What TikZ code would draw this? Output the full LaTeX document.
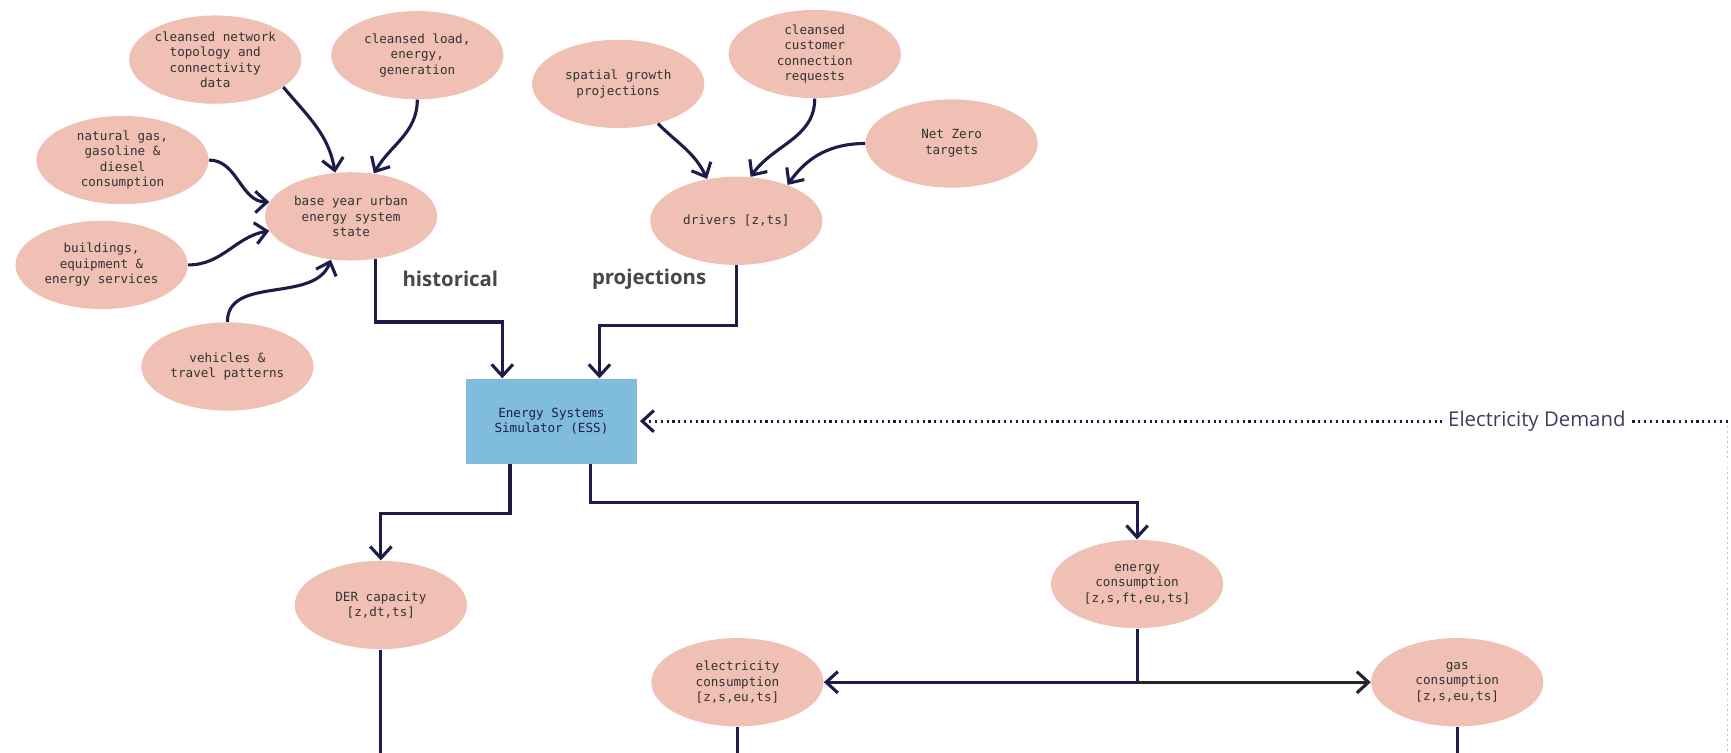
\documentclass[tikz,border=0pt]{standalone}
\usepackage{fontspec}
\setmonofont{DejaVu Sans Mono}
\setsansfont{Open Sans}
\usetikzlibrary{shapes.geometric,arrows.meta}
\definecolor{blobpink}{RGB}{240,192,181}
\definecolor{essblue}{RGB}{128,188,222}
\definecolor{ink}{RGB}{28,28,72}
\tikzset{
  blob/.style = {ellipse, fill=blobpink, minimum width=3.12cm, minimum height=1.6cm,
                 inner sep=0pt, align=center, text=black!80,
                 font=\ttfamily\fontsize{6.5}{8}\selectfont},
  essbox/.style = {rectangle, fill=essblue, minimum width=3.1cm, minimum height=1.54cm,
                   align=center, text=ink, font=\ttfamily\fontsize{6.5}{8}\selectfont},
  flow/.style = {draw=ink, line width=1.6pt, -{Straight Barb[length=6pt,width=11pt]}},
  wire/.style = {draw=ink, line width=1.6pt},
  demand/.style = {draw=ink, line width=1.5pt, dash pattern=on 1.1pt off 1.9pt,
                   -{Straight Barb[length=6pt,width=11pt,line width=1.6pt,sep]}},
  tag/.style = {font=\sffamily\bfseries\fontsize{10.5}{12}\selectfont, text=black!72}
}

\begin{document}
\begin{tikzpicture}[x=0.02cm, y=-0.02cm]
	\useasboundingbox (0,0) rectangle (1568,682);
	\coordinate (bot) at (0,682);

	% Historical inputs
	\node[blob] (net)  at (195,54)  {cleansed network\\topology and\\connectivity\\data};
	\node[blob] (load) at (378,50)  {cleansed load,\\energy,\\generation};
	\node[blob] (fuel) at (111,145) {natural gas,\\gasoline \&\\diesel\\consumption};
	\node[blob] (bldg) at (92,240)  {buildings,\\equipment \&\\energy services};
	\node[blob] (veh)  at (206,332) {vehicles \&\\travel patterns};
	\node[blob] (base) at (318,196) {base year urban\\energy system\\state};

	% Projection inputs
	\node[blob] (spat) at (560,76)  {spatial growth\\projections};
	\node[blob] (cust) at (738,49)  {cleansed\\customer\\connection\\requests};
	\node[blob] (nz)   at (862,130) {Net Zero\\targets};
	\node[blob] (drv)  at (667,200) {drivers [z,ts]};

	% Simulator
	\node[essbox] (ess) at (499.5,381.5) {Energy Systems\\Simulator (ESS)};

	% Outputs
	\node[blob] (der)  at (345,548)  {DER capacity\\{}[z,dt,ts]};
	\node[blob] (en)   at (1030,529) {energy\\consumption\\{}[z,s,ft,eu,ts]};
	\node[blob] (elec) at (668,618)  {electricity\\consumption\\{}[z,s,eu,ts]};
	\node[blob] (gas)  at (1320,618) {gas\\consumption\\{}[z,s,eu,ts]};

	% Labels
	\node[tag] (hist) at (408,253) {historical};
	\node[tag] (proj) at (588,253) {projections};

	% Curved inputs
	\draw[flow] (net.-22)    to[out=-50,in=100] (base.110);
	\draw[flow] (load.south) to[out=-90,in=60]  (base.62);
	\draw[flow] (fuel.east)  to[out=0,in=180]   (base.170);
	\draw[flow] (bldg.east)  to[out=0,in=190]   (base.190);
	\draw[flow] (veh.north)  to[out=90,in=250]  (base.245);
	\draw[flow] (spat.-45)   to[out=-45,in=115] (drv.125);
	\draw[flow] (cust.south) to[out=-90,in=55]  (drv.72);
	\draw[flow] (nz.west)    to[out=180,in=55]  (drv.35);

	% Into the simulator
	\draw[flow] (base.-60) -- ++(0,57) -| ([xshift=-0.89cm]ess.north);
	\draw[flow] (drv.south) -- ++(0,54.5) -| ([xshift=0.87cm]ess.north);

	% Out of the simulator
	\draw[flow] ([xshift=-0.75cm]ess.south) -- ++(0,45) -| (der.north);
	\draw[flow] ([xshift=0.71cm]ess.south) -- ++(0,35) -| (en.north);

	% Split of energy consumption
	\coordinate (split) at (en.south |- elec.east);
	\draw[wire] (en.south) -- (split);
	\draw[flow] (split) -- (elec.east);
	\draw[flow, draw=black!85] (split) -- (gas.west);

	% Down to the next stage
	\draw[wire] (der.south) -- (der.south |- bot);
	\draw[wire] (elec.south) -- (elec.south |- bot);
	\draw[wire] (gas.south) -- (gas.south |- bot);

	% Electricity demand feedback
	\coordinate (edge) at (ess.east -| 1565,0);
	\draw[draw=black!25, line width=0.8pt, dash pattern=on 1pt off 1.6pt] (edge) -- (edge |- bot);
	\draw[demand] (edge) -- node[pos=0.175, fill=white, inner sep=3pt, text=ink!85,
		font=\sffamily\fontsize{10.5}{12}\selectfont] {Electricity Demand} (ess.east);
\end{tikzpicture}
\end{document}
